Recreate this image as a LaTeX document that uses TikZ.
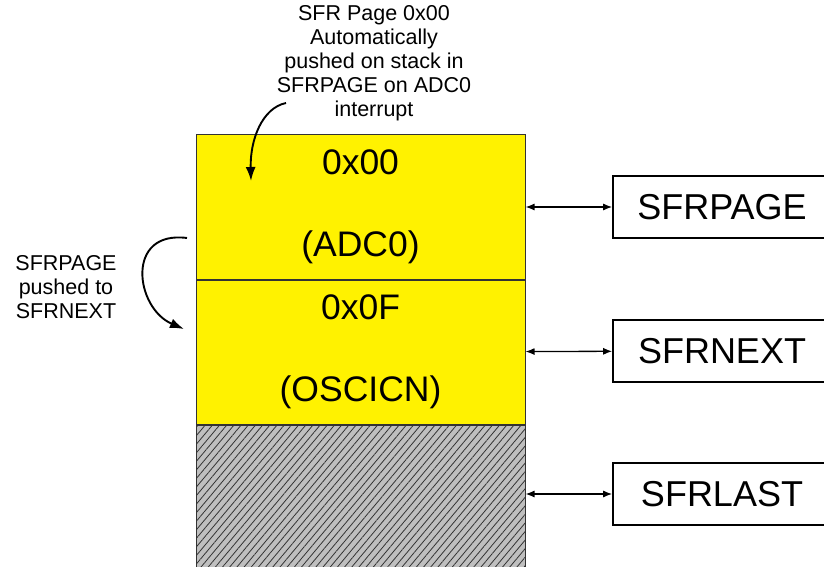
\documentclass[tikz,border=0pt]{standalone}
\usepackage{fontspec}
\setmainfont{Liberation Sans}
\usetikzlibrary{arrows.meta,positioning,patterns.meta}

\begin{document}
\begin{tikzpicture}[x=1pt,y=-1pt,
  cell/.style={draw=black!80,line width=1pt,fill=yellow,minimum width=329pt,minimum height=144pt,align=center,inner sep=0pt,font=\fontsize{35.5}{40}\selectfont},
  regbox/.style={draw,line width=1.6pt,minimum width=218pt,minimum height=62pt,font=\fontsize{36}{40}\selectfont},
  note/.style={align=center,font=\fontsize{21.5}{24}\selectfont},
  arr/.style={{Latex[length=9pt,width=7pt]}-{Latex[length=9pt,width=7pt]},line width=1.3pt},
  curvearr/.style={-{Latex[length=14pt,width=10pt]},line width=1.9pt},
  node distance=0pt]
\useasboundingbox (0,0) rectangle (824,567);
\node[cell] (adc) at (360.5,207) {0x00\\[42pt](ADC0)};
\node[cell,below=of adc] (osc) {0x0F\\[42pt](OSCICN)};
\node[cell,below=of osc,fill=black!25,postaction={pattern={Lines[angle=50,distance=5.5pt,line width=.8pt]},pattern color=black!80}] (free) {};
\node[regbox] (page) at (722,207) {SFRPAGE};
\node[regbox] (next) at (722,351) {SFRNEXT};
\node[regbox] (last) at (722,494) {SFRLAST};
\draw[arr] (adc)--(page);
\draw[arr] (osc)--(next);
\draw[arr] (free.east|-last)--(last);
\node[note] (push) at (374,63) {SFR Page 0x00\\Automatically\\pushed on stack in\\SFRPAGE on ADC0\\interrupt};
\node[note] (move) at (66,287) {SFRPAGE\\pushed to\\SFRNEXT};
\coordinate (pushstart) at (286,103);
\coordinate (pushend) at (251,181);
\coordinate (movestart) at (187,238);
\coordinate (moveend) at (184,329);
\draw[curvearr] (pushstart) .. controls (262,108) and (250,140) .. (pushend);
\draw[curvearr] (movestart) .. controls (125,230) and (135,308) .. (moveend);
\end{tikzpicture}
\end{document}
